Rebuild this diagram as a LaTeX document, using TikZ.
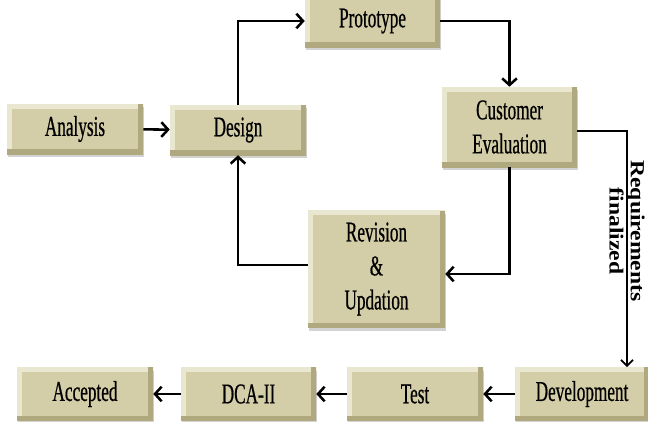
\documentclass[tikz,border=0pt]{standalone}
\usepackage{fontspec}
\usetikzlibrary{arrows.meta,shadows,calc}
\newfontfamily\boxfont[FakeStretch=0.6,FakeBold=0.6]{Liberation Serif}
\newfontfamily\notefont[FakeStretch=1.18]{Liberation Serif}

\definecolor{boxtan}{RGB}{212,206,168}
\definecolor{boxlight}{RGB}{234,231,208}
\definecolor{boxdark}{RGB}{176,168,126}

\tikzset{
  phase/.style={draw=none, fill=boxtan, inner sep=0pt, align=center,
    minimum width=102pt, minimum height=37.5pt,
    font=\boxfont\fontsize{21.5}{25.5}\selectfont,
    drop shadow={shadow xshift=0.8pt, shadow yshift=-2.5pt, opacity=0.35},
    path picture={
      \draw[boxlight, line width=7pt, line join=miter]
        (path picture bounding box.south west) -- (path picture bounding box.north west)
        -- (path picture bounding box.north east);
      \draw[boxdark, line width=7pt, line join=miter]
        (path picture bounding box.north east) -- (path picture bounding box.south east)
        -- (path picture bounding box.south west);
    }},
  flow/.style={line width=1.9pt, -{Straight Barb[length=5pt,width=11pt]}},
  reqflow/.style={line width=1.3pt, -{Straight Barb[length=4.5pt,width=9pt]}},
  reqlabel/.style={rotate=-90, align=center,
    font=\notefont\bfseries\fontsize{15}{16}\selectfont}
}

\begin{document}
\begin{tikzpicture}[x=0.75pt,y=0.75pt,yscale=-1,xscale=1]
\useasboundingbox (0,0) rectangle (648,421);

%Boxes: prototype loop
\node[phase] (analysis) at (75,129) {Analysis};
\node[phase] (design) at (238,130) {Design};
\node[phase, minimum width=101.25pt, minimum height=39pt] (prototype) at (372.5,21) {Prototype};
\node[phase, minimum width=101.25pt, minimum height=60pt] (customer) at (509.5,127) {Customer\\Evaluation};
\node[phase, minimum width=102.75pt, minimum height=87.75pt] (revision) at (376.5,269) {Revision\\\&\\Updation};

%Boxes: bottom row
\node[phase, minimum width=100.5pt, minimum height=40pt] (development) at (582,394) {Development};
\node[phase, minimum height=40pt] (test) at (415,394) {Test};
\node[phase, minimum width=101.25pt, minimum height=40pt] (dca) at (248.5,394) {DCA-II};
\node[phase, minimum height=40pt] (accepted) at (85,394) {Accepted};

%Arrows
\draw[flow] (analysis) -- (design);
\draw[flow] (design.north) |- (prototype.west);
\draw[flow] (prototype.east) -| (customer.north);
\draw[flow] (customer.south) |- ($(revision.east)+(0,5)$);
\draw[flow] ($(revision.west)+(0,-4)$) -| (design.south);

%Requirements finalized
\coordinate (reqturn) at (627,131);
\draw[reqflow] (customer.east |- reqturn) -- (reqturn) -- (reqturn |- development.north);
\node[reqlabel] (reqnote) at (627,231) {Requirements\\finalized};

\draw[flow] (development) -- (test);
\draw[flow] (test) -- (dca);
\draw[flow] (dca) -- (accepted);

\end{tikzpicture}
\end{document}
